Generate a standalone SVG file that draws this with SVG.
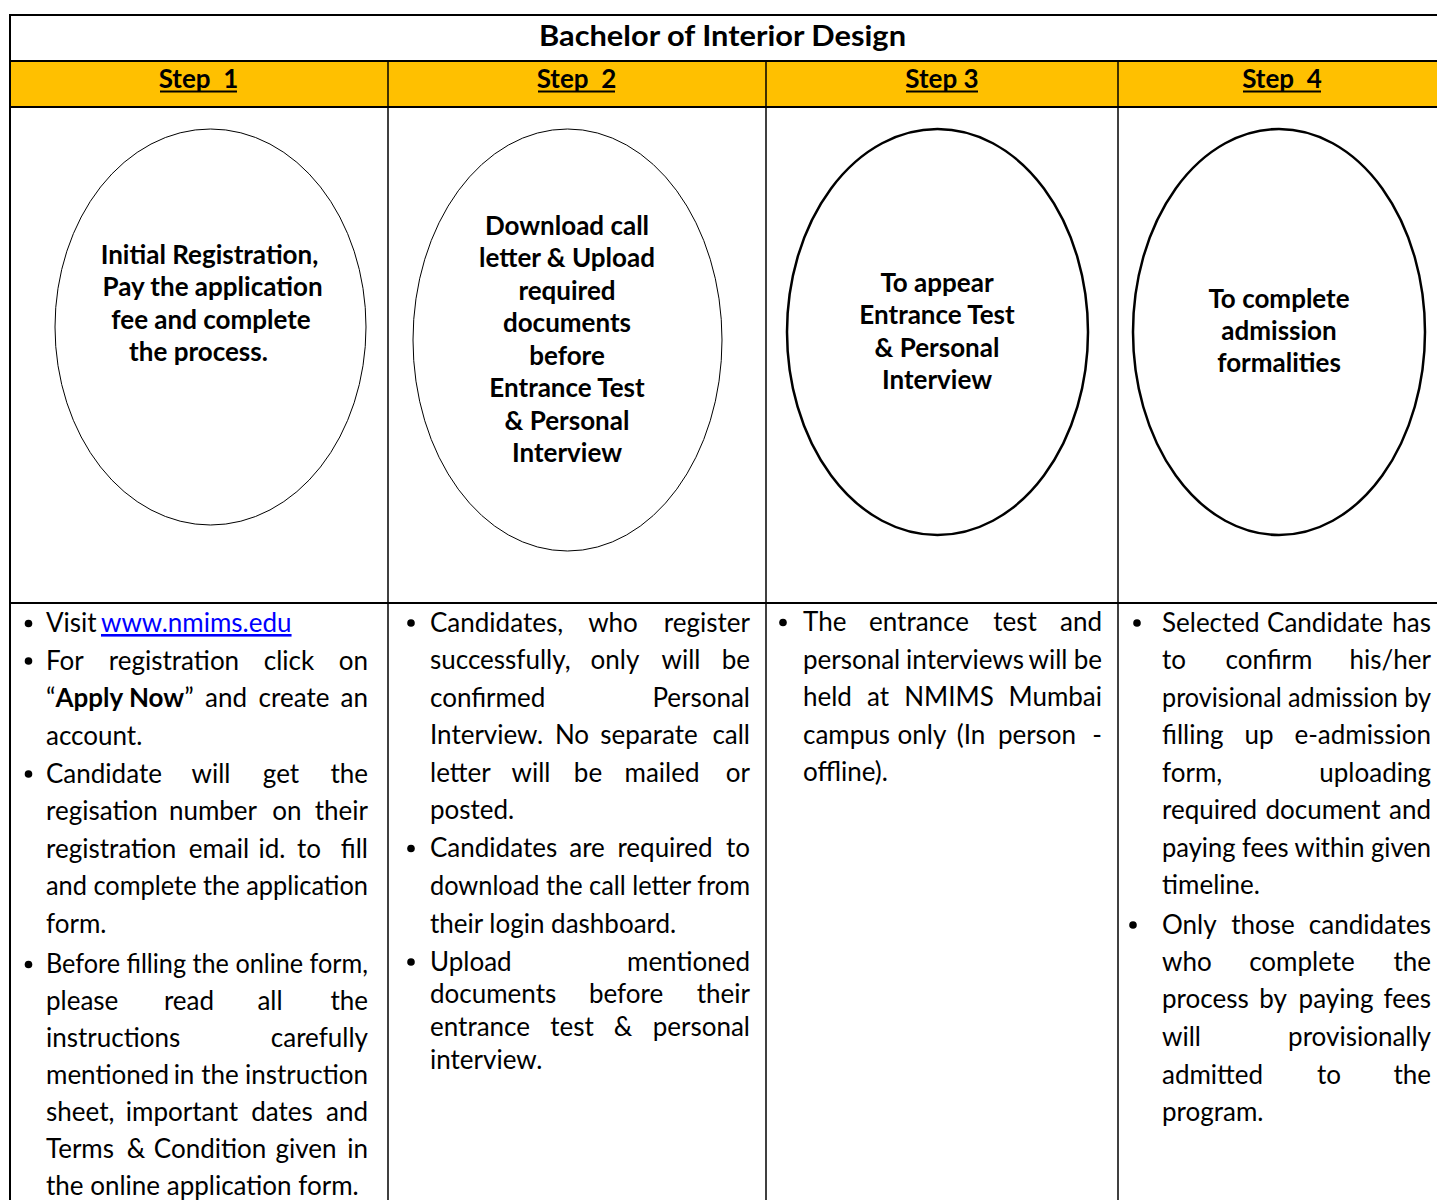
<svg xmlns="http://www.w3.org/2000/svg" width="1437" height="1200" viewBox="0 0 1437 1200">
<style>
text{font-family:Lato,"Open Sans","Liberation Sans",sans-serif;fill:#000}
.t{font-size:29px;font-weight:bold;text-anchor:middle}
.s{font-size:26px;font-weight:bold;text-anchor:middle;white-space:pre}
.o{font-size:26px;font-weight:bold;text-anchor:middle}
.b{font-size:26px}
.m{text-anchor:middle}
.e{text-anchor:end}
.gl{stroke:#000;stroke-width:2;fill:none}
.gv{stroke:#000;stroke-width:1.5;fill:none}
.thin{fill:#fff;stroke:#000;stroke-width:1}
.thick{fill:#fff;stroke:#000;stroke-width:2.5}
.ul{stroke:#000;stroke-width:2}
.lk{fill:#0000ff;text-decoration:underline}
</style>
<g id="table">
<rect x="10" y="61" width="1427" height="46" fill="#FFC000"/>
<line class="gl" x1="10" y1="15" x2="1437" y2="15"/>
<line class="gl" x1="10" y1="61" x2="1437" y2="61"/>
<line class="gl" x1="10" y1="107" x2="1437" y2="107"/>
<line class="gl" x1="10" y1="603" x2="1437" y2="603"/>
<line class="gl" x1="10" y1="14" x2="10" y2="1200"/>
<line class="gv" x1="388" y1="61" x2="388" y2="1200"/>
<line class="gv" x1="766" y1="61" x2="766" y2="1200"/>
<line class="gv" x1="1118" y1="61" x2="1118" y2="1200"/>
</g>
<g id="title"><text class="t" x="722.5" y="46" textLength="367" lengthAdjust="spacingAndGlyphs">Bachelor of Interior Design</text></g>
<g id="step1-header"><text class="s" x="198.5" y="88">Step  1</text><line class="ul" x1="160" y1="91.5" x2="237" y2="91.5"/></g>
<g id="step2-header"><text class="s" x="576.5" y="88">Step  2</text><line class="ul" x1="538" y1="91.5" x2="615" y2="91.5"/></g>
<g id="step3-header"><text class="s" x="942" y="88">Step 3</text><line class="ul" x1="906" y1="91.5" x2="978" y2="91.5"/></g>
<g id="step4-header"><text class="s" x="1282" y="88">Step  4</text><line class="ul" x1="1243" y1="91.5" x2="1321" y2="91.5"/></g>

<g id="node-step1">
<ellipse class="thin" cx="210.5" cy="327" rx="155.5" ry="198"/>
<text class="o" x="209.5" y="264">Initial Registration,</text>
<text class="o" x="212.5" y="296">Pay the application</text>
<text class="o" x="211" y="329">fee and complete</text>
<text class="o" x="198.5" y="361">the process.</text>
</g>
<g id="node-step2">
<ellipse class="thin" cx="567.5" cy="340" rx="154.5" ry="211"/>
<text class="o" x="567" y="235">Download call</text>
<text class="o" x="567" y="267">letter &amp; Upload</text>
<text class="o" x="567" y="300">required</text>
<text class="o" x="567" y="332">documents</text>
<text class="o" x="567" y="365">before</text>
<text class="o" x="567" y="397">Entrance Test</text>
<text class="o" x="567" y="430">&amp; Personal</text>
<text class="o" x="567" y="462">Interview</text>
</g>
<g id="node-step3">
<ellipse class="thick" cx="937.5" cy="332" rx="150.5" ry="203"/>
<text class="o" x="937" y="292">To appear</text>
<text class="o" x="937" y="324">Entrance Test</text>
<text class="o" x="937" y="357">&amp; Personal</text>
<text class="o" x="937" y="389">Interview</text>
</g>
<g id="node-step4">
<ellipse class="thick" cx="1279" cy="332" rx="146" ry="203"/>
<text class="o" x="1279" y="308">To complete</text>
<text class="o" x="1279" y="340">admission</text>
<text class="o" x="1279" y="372">formalities</text>
</g>

<g id="details-step1">
<circle cx="28.5" cy="623.5" r="3.8"/>
<circle cx="28.5" cy="661" r="3.8"/>
<circle cx="28.5" cy="774" r="3.8"/>
<circle cx="28.5" cy="964.5" r="3.8"/>
<text class="b" y="632"><tspan x="46">Visit</tspan><tspan class="lk" x="101">www.nmims.edu</tspan></text>
<text class="b" y="669.5"><tspan x="46">For</tspan><tspan class="m" x="174">registration</tspan><tspan class="m" x="289">click</tspan><tspan class="e" x="368">on</tspan></text>
<text class="b" y="707"><tspan x="46">“<tspan font-weight="bold">Apply Now</tspan>”</tspan><tspan class="m" x="226">and</tspan><tspan class="m" x="294">create</tspan><tspan class="e" x="368">an</tspan></text>
<text class="b" x="46" y="744.5">account.</text>
<text class="b" y="782.5"><tspan x="46">Candidate</tspan><tspan class="m" x="211">will</tspan><tspan class="m" x="281">get</tspan><tspan class="e" x="368">the</tspan></text>
<text class="b" y="820"><tspan x="46">regisation</tspan><tspan class="m" x="213">number</tspan><tspan class="m" x="287">on</tspan><tspan class="e" x="368">their</tspan></text>
<text class="b" y="857.5"><tspan x="46">registration</tspan><tspan class="m" x="219">email</tspan><tspan class="m" x="272">id.</tspan><tspan class="m" x="309">to</tspan><tspan class="e" x="368">fill</tspan></text>
<text class="b" x="46" y="895" textLength="322" lengthAdjust="spacingAndGlyphs">and complete the application</text>
<text class="b" x="46" y="933">form.</text>
<text class="b" x="46" y="973" textLength="322" lengthAdjust="spacingAndGlyphs">Before filling the online form,</text>
<text class="b" y="1010"><tspan x="46">please</tspan><tspan class="m" x="189">read</tspan><tspan class="m" x="270">all</tspan><tspan class="e" x="368">the</tspan></text>
<text class="b" y="1047"><tspan x="46">instructions</tspan><tspan class="e" x="368">carefully</tspan></text>
<text class="b" y="1084"><tspan x="46">mentioned</tspan><tspan class="m" x="184">in</tspan><tspan class="m" x="220">the</tspan><tspan class="e" x="368">instruction</tspan></text>
<text class="b" y="1121"><tspan x="46">sheet,</tspan><tspan class="m" x="182">important</tspan><tspan class="m" x="282">dates</tspan><tspan class="e" x="368">and</tspan></text>
<text class="b" y="1158"><tspan x="46">Terms</tspan><tspan class="m" x="136">&amp;</tspan><tspan class="m" x="210">Condition</tspan><tspan class="m" x="306">given</tspan><tspan class="e" x="368">in</tspan></text>
<text class="b" x="46" y="1195">the online application form.</text>
</g>

<g id="details-step2">
<circle cx="411" cy="623" r="3.8"/>
<circle cx="411" cy="848.5" r="3.8"/>
<circle cx="411" cy="962" r="3.8"/>
<text class="b" y="632"><tspan x="430">Candidates,</tspan><tspan class="m" x="613">who</tspan><tspan class="e" x="750">register</tspan></text>
<text class="b" y="669"><tspan x="430">successfully,</tspan><tspan class="m" x="615">only</tspan><tspan class="m" x="681">will</tspan><tspan class="e" x="750">be</tspan></text>
<text class="b" y="706.5"><tspan x="430">confirmed</tspan><tspan class="e" x="750">Personal</tspan></text>
<text class="b" y="744"><tspan x="430">Interview.</tspan><tspan class="m" x="572">No</tspan><tspan class="m" x="649">separate</tspan><tspan class="e" x="750">call</tspan></text>
<text class="b" y="781.5"><tspan x="430">letter</tspan><tspan class="m" x="531">will</tspan><tspan class="m" x="588">be</tspan><tspan class="m" x="662">mailed</tspan><tspan class="e" x="750">or</tspan></text>
<text class="b" x="430" y="819">posted.</text>
<text class="b" y="857"><tspan x="430">Candidates</tspan><tspan class="m" x="587">are</tspan><tspan class="m" x="665">required</tspan><tspan class="e" x="750">to</tspan></text>
<text class="b" x="430" y="894.5" textLength="320" lengthAdjust="spacingAndGlyphs">download the call letter from</text>
<text class="b" x="430" y="932.5">their login dashboard.</text>
<text class="b" y="970.5"><tspan x="430">Upload</tspan><tspan class="e" x="750">mentioned</tspan></text>
<text class="b" y="1003"><tspan x="430">documents</tspan><tspan class="m" x="626">before</tspan><tspan class="e" x="750">their</tspan></text>
<text class="b" y="1036"><tspan x="430">entrance</tspan><tspan class="m" x="572">test</tspan><tspan class="m" x="623">&amp;</tspan><tspan class="e" x="750">personal</tspan></text>
<text class="b" x="430" y="1068.5">interview.</text>
</g>

<g id="details-step3">
<circle cx="783" cy="622.5" r="3.8"/>
<text class="b" y="631"><tspan x="803">The</tspan><tspan class="m" x="919">entrance</tspan><tspan class="m" x="1015">test</tspan><tspan class="e" x="1102">and</tspan></text>
<text class="b" y="668.5"><tspan x="803">personal</tspan><tspan class="m" x="965">interviews</tspan><tspan class="m" x="1048">will</tspan><tspan class="e" x="1102">be</tspan></text>
<text class="b" y="706"><tspan x="803">held</tspan><tspan class="m" x="878">at</tspan><tspan class="m" x="949">NMIMS</tspan><tspan class="e" x="1102">Mumbai</tspan></text>
<text class="b" y="743.5"><tspan x="803">campus</tspan><tspan class="m" x="922">only</tspan><tspan class="m" x="971">(In</tspan><tspan class="m" x="1037">person</tspan><tspan class="e" x="1102">-</tspan></text>
<text class="b" x="803" y="780.5">offline).</text>
</g>

<g id="details-step4">
<circle cx="1137" cy="623" r="3.8"/>
<circle cx="1133" cy="925" r="3.8"/>
<text class="b" y="632"><tspan x="1162">Selected</tspan><tspan class="m" x="1325">Candidate</tspan><tspan class="e" x="1431">has</tspan></text>
<text class="b" y="669"><tspan x="1162">to</tspan><tspan class="m" x="1269">confirm</tspan><tspan class="e" x="1431">his/her</tspan></text>
<text class="b" x="1162" y="706.5" textLength="269" lengthAdjust="spacingAndGlyphs">provisional admission by</text>
<text class="b" y="744"><tspan x="1162">filling</tspan><tspan class="m" x="1259">up</tspan><tspan class="e" x="1431">e-admission</tspan></text>
<text class="b" y="781.5"><tspan x="1162">form,</tspan><tspan class="e" x="1431">uploading</tspan></text>
<text class="b" y="819"><tspan x="1162">required</tspan><tspan class="m" x="1323">document</tspan><tspan class="e" x="1431">and</tspan></text>
<text class="b" x="1162" y="856.5" textLength="269" lengthAdjust="spacingAndGlyphs">paying fees within given</text>
<text class="b" x="1162" y="894">timeline.</text>
<text class="b" y="933.5"><tspan x="1162">Only</tspan><tspan class="m" x="1263">those</tspan><tspan class="e" x="1431">candidates</tspan></text>
<text class="b" y="970.5"><tspan x="1162">who</tspan><tspan class="m" x="1302">complete</tspan><tspan class="e" x="1431">the</tspan></text>
<text class="b" y="1008"><tspan x="1162">process</tspan><tspan class="m" x="1273">by</tspan><tspan class="m" x="1336">paying</tspan><tspan class="e" x="1431">fees</tspan></text>
<text class="b" y="1046"><tspan x="1162">will</tspan><tspan class="e" x="1431">provisionally</tspan></text>
<text class="b" y="1083.5"><tspan x="1162">admitted</tspan><tspan class="m" x="1329">to</tspan><tspan class="e" x="1431">the</tspan></text>
<text class="b" x="1162" y="1120.5">program.</text>
</g>
<g id="connectors"/>
</svg>
